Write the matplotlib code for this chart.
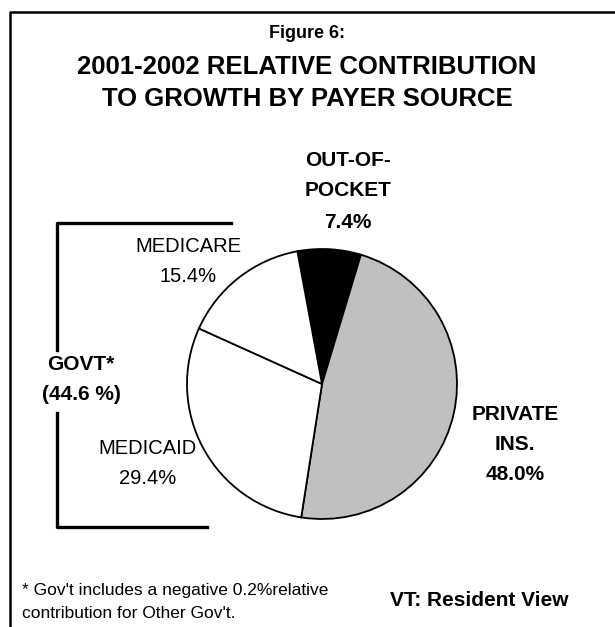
import numpy as np
import matplotlib.pyplot as plt
from matplotlib.lines import Line2D

plt.rcParams['font.family'] = ['Liberation Sans', 'DejaVu Sans']

# payer sources, clockwise from the top (other gov't is the thin sliver)
sources = ['Other Gov\'t', 'Out-of-Pocket', 'Private Ins.', 'Medicaid', 'Medicare']
shares = [0.2, 7.4, 48.0, 29.4, 15.4]
colors = ['white', 'black', '#c0c0c0', 'white', 'white']
govt_total = 44.6

W, H = 615, 627
fig = plt.figure(figsize=(W / 100, H / 100), dpi=100)
ax = fig.add_axes([0, 0, 1, 1])

def Y(y):
    # pixel row -> data y
    return H - y

def lines(x, ys, texts, **kw):
    for y, t in zip(ys, texts):
        ax.text(x, Y(y), t, ha='center', va='center', **kw)

# pie
ax.pie(shares, colors=colors, startangle=100.5, counterclock=False,
       center=(322, Y(384)), radius=135, frame=True,
       wedgeprops=dict(edgecolor='black', linewidth=1.3))
ax.set_xlim(0, W)
ax.set_ylim(0, H)
ax.set_aspect('equal')
ax.axis('off')

# outer frame (runs off the right and bottom)
ax.add_line(Line2D([10, 10, W], [0, Y(12), Y(12)], color='black', lw=1.8))

# title
ax.text(307, Y(34), 'Figure 6:', ha='center', va='center', fontsize=13, fontweight='bold')
ax.text(307, Y(67), '2001-2002 RELATIVE CONTRIBUTION', ha='center', va='center',
        fontsize=18.5, fontweight='bold')
ax.text(307, Y(99), 'TO GROWTH BY PAYER SOURCE', ha='center', va='center',
        fontsize=18.5, fontweight='bold')

# slice labels
lines(348, [160, 190, 222], ['OUT-OF-', 'POCKET', '%.1f%%' % shares[1]],
      fontsize=15, fontweight='bold')
lines(515, [415, 445, 475], ['PRIVATE', 'INS.', '%.1f%%' % shares[2]],
      fontsize=15, fontweight='bold')
lines(148, [448, 479], ['MEDICAID', '%.1f%%' % shares[3]], fontsize=14.5)
lines(188, [247, 277], ['MEDICARE', '%.1f%%' % shares[4]], fontsize=14.5)

# government bracket
ax.add_line(Line2D([231, 57, 57], [Y(223), Y(223), Y(350)], color='black', lw=2.4))
ax.add_line(Line2D([57, 57, 207], [Y(413), Y(527), Y(527)], color='black', lw=2.4))
lines(81, [365, 395], ['GOVT*', '(%.1f %%)' % govt_total], fontsize=15, fontweight='bold')

# footnote and source
ax.text(22, Y(591), "* Gov't includes a negative 0.2%relative", ha='left', va='center',
        fontsize=12.5)
ax.text(22, Y(613), "contribution for Other Gov't.", ha='left', va='center', fontsize=12.5)
ax.text(568, Y(601), 'VT: Resident View', ha='right', va='center',
        fontsize=15, fontweight='bold')

fig.savefig('out.png', dpi=100)
